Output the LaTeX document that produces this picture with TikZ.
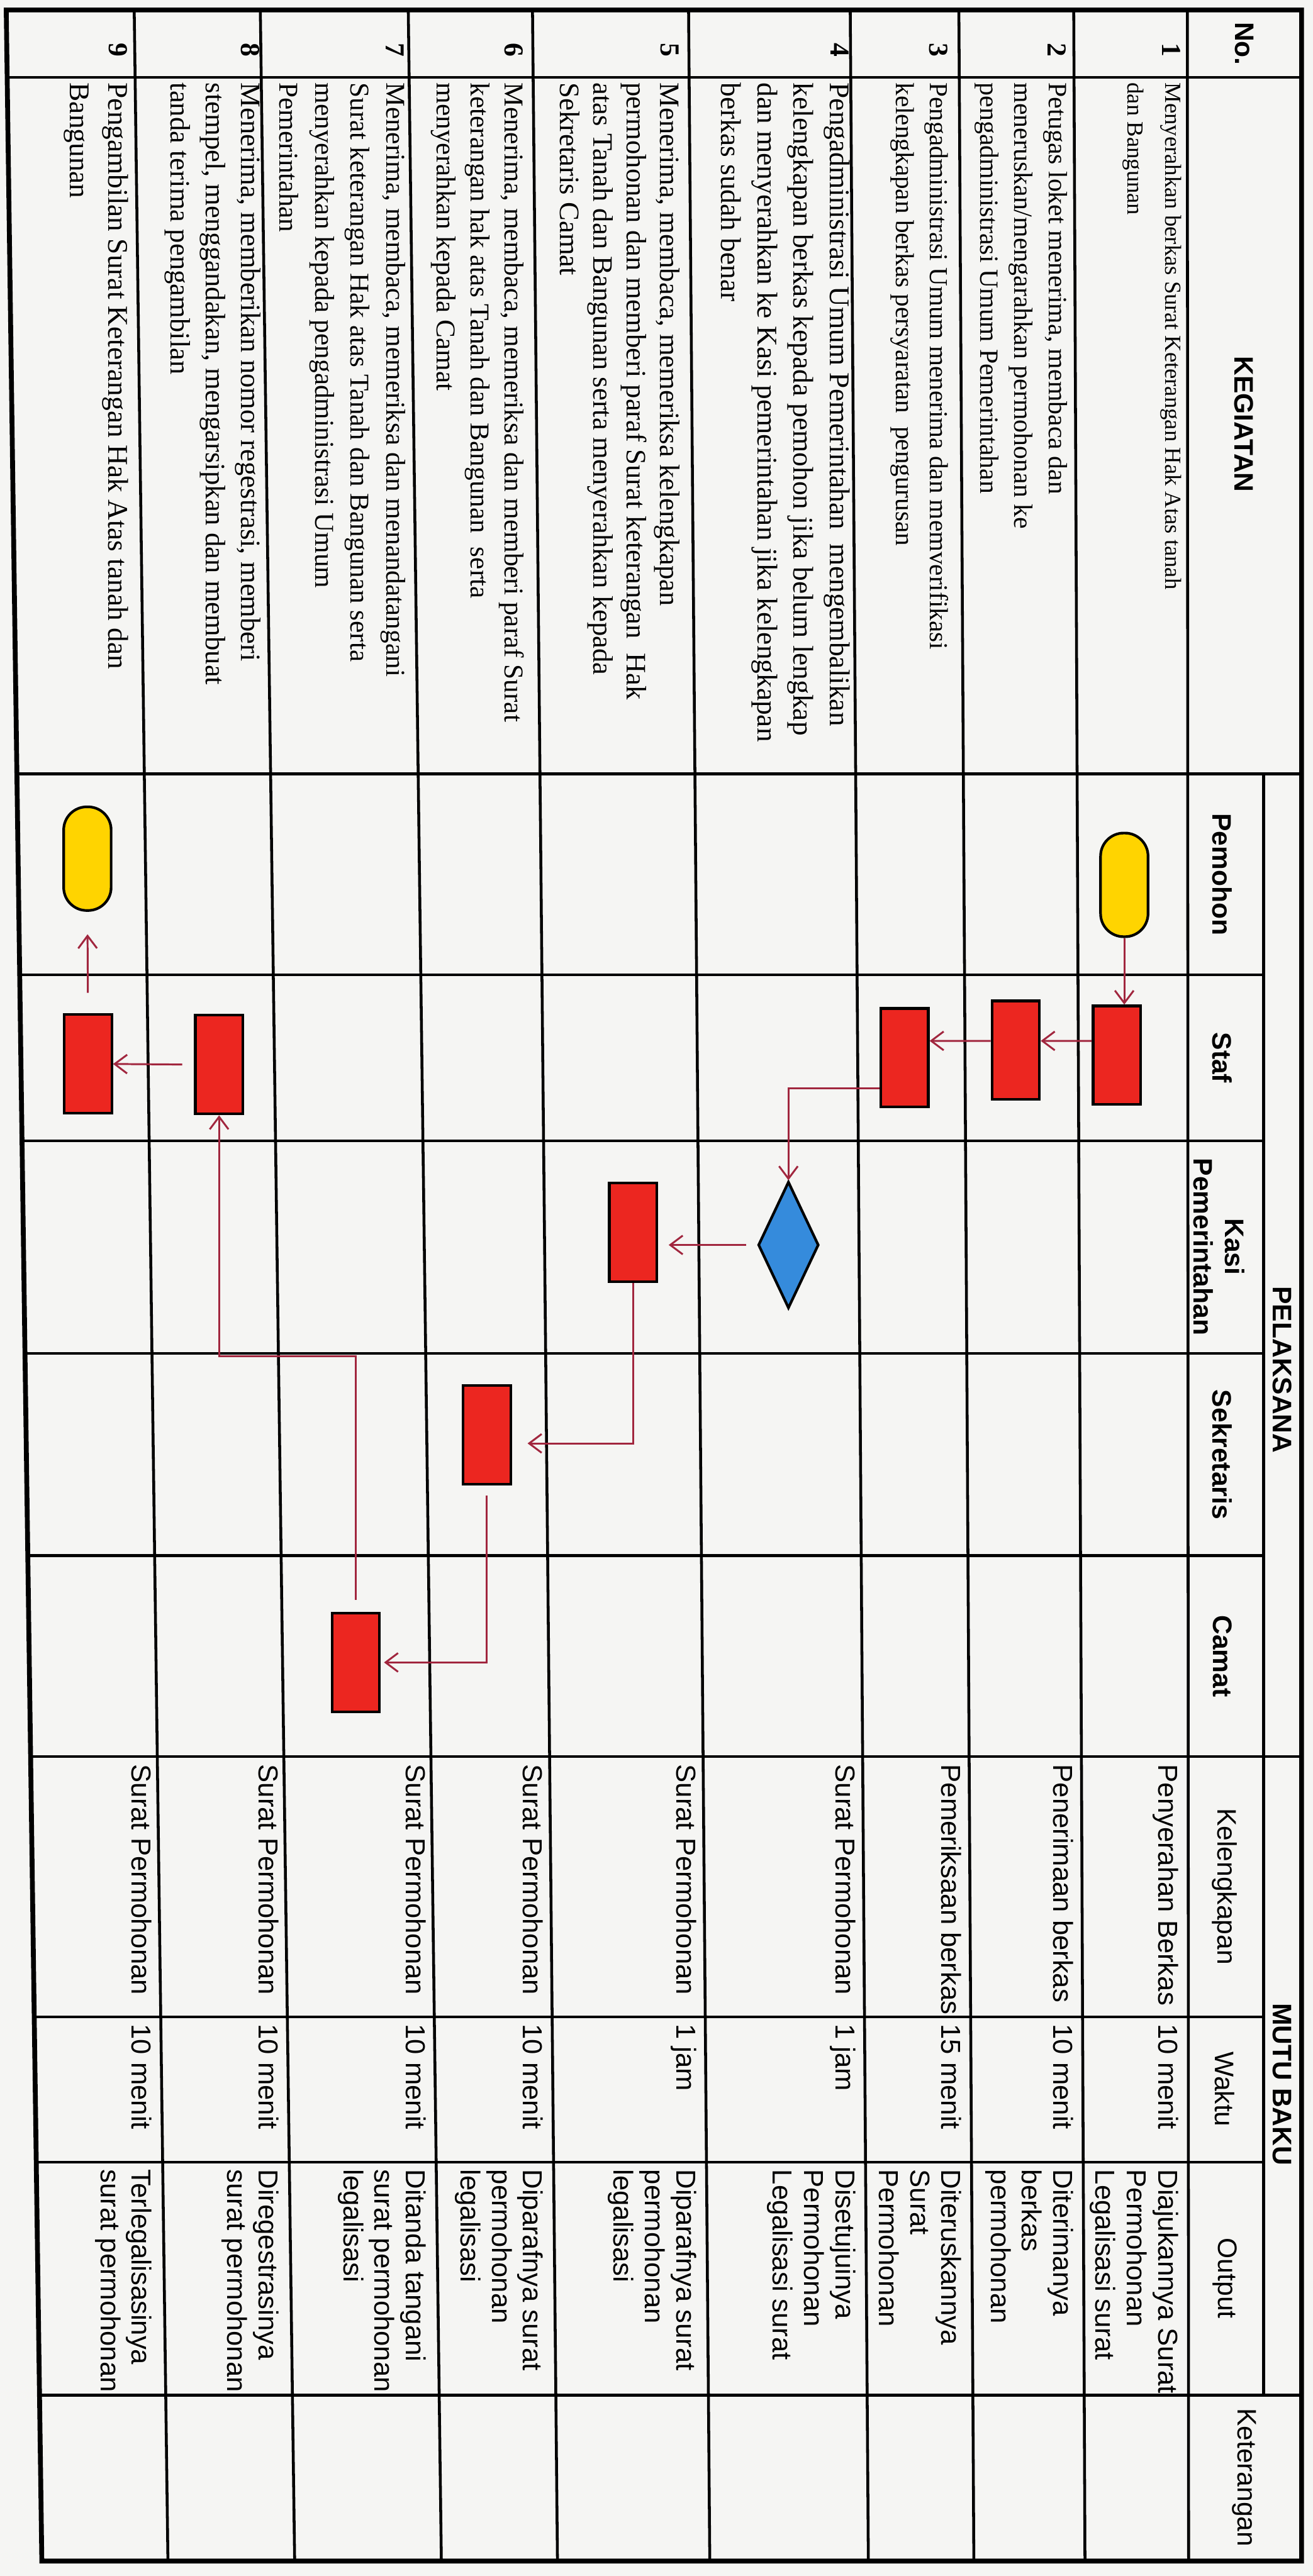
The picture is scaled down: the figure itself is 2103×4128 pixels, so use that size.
\documentclass[tikz,border=0pt]{standalone}
\usepackage{fontspec}
\setmainfont{Liberation Serif}
\newfontfamily\arialfont{Liberation Sans}
\usetikzlibrary{shapes.geometric,arrows.meta}
\definecolor{paper}{HTML}{F5F5F3}
\definecolor{boxred}{HTML}{EC2620}
\definecolor{termyellow}{HTML}{FFD400}
\definecolor{diamblue}{HTML}{358BDC}
\definecolor{flowline}{HTML}{A1263E}
\begin{document}
\begin{tikzpicture}[x=0.01cm,y=-0.01cm,
  gridline/.style={line width=1.3pt,black},
  frameline/.style={line width=2.2pt,black},
  hdr/.style={rotate=-90,inner sep=0pt,font=\arialfont\bfseries\fontsize{12.2}{14.2}\selectfont,align=center},
  subhdr/.style={rotate=-90,inner sep=0pt,font=\arialfont\fontsize{12.2}{14.2}\selectfont,align=center},
  kegtext/.style={rotate=-90,anchor=north west,inner sep=0pt,align=left},
  numtext/.style={rotate=-90,inner sep=0pt,font=\bfseries\fontsize{12.5}{14}\selectfont},
  mutu/.style={rotate=-90,anchor=north west,inner sep=0pt,align=left,font=\arialfont\fontsize{12.5}{14.2}\selectfont},
  procbox/.style={draw=black,line width=1.2pt,fill=boxred,minimum width=0.76cm,minimum height=1.58cm,inner sep=0pt},
  termbox/.style={draw=black,line width=1.2pt,fill=termyellow,minimum width=0.76cm,minimum height=1.66cm,rounded corners=0.37cm,inner sep=0pt},
  decbox/.style={diamond,draw=black,line width=1.2pt,fill=diamblue,minimum width=0.97cm,minimum height=2.03cm,inner sep=0pt},
  flow/.style={draw=flowline,line width=0.85pt,-{Straight Barb[length=0.2cm,width=0.3cm]}},
]
% background and bounding box
\fill[paper] (0,0) rectangle (2103,4128);
\useasboundingbox (0,0) rectangle (2103,4128);

% table grid (the photographed table leans slightly: lines drift right towards the bottom)
\foreach \xt/\xb in {215/269,417/472,654/707,853/893,1103/1137,1362/1391,1536/1560,1720/1738,1902/1904}
  \draw[gridline] (\xt,16) -- (\xb,4104);
\draw[gridline] (11.5,124) -- (2085,124);
\draw[gridline] (27.1,1240) -- (2085,1240);
\draw[gridline] (49,2815) -- (2085,2815);
\draw[gridline] (63.3,3838) -- (2085,3838);
\foreach \xl/\yy in {31.6/1562,35.3/1828,40/2169,44.5/2493,54.8/3232,58.1/3465}
  \draw[gridline] (\xl,\yy) -- (2024,\yy);
\draw[gridline] (2024,1240) -- (2024,3838);
\draw[frameline,line join=miter] (10,16) -- (2085,16) -- (2085,4104) -- (67,4104) -- cycle;

% headers
\node[hdr] (hno) at (1993,70) {No.};
\node[hdr] (hkeg) at (1993,680) {KEGIATAN};
\node[hdr] (hpel) at (2054,2195) {PELAKSANA};
\node[hdr] (hpem) at (1958,1401) {Pemohon};
\node[hdr] (hstaf) at (1958,1695) {Staf};
\node[hdr] (hkasi) at (1953,1998) {Kasi\\Pemerintahan};
\node[hdr] (hsek) at (1958,2331) {Sekretaris};
\node[hdr] (hcam) at (1958,2654) {Camat};
\node[hdr] (hmutu) at (2054,3340) {MUTU BAKU};
\node[subhdr] (hkel) at (1962,3023) {Kelengkapan};
\node[subhdr] (hwak) at (1962,3348) {Waktu};
\node[subhdr] (hout) at (1962,3651) {Output};
\node[subhdr] (hket) at (1993,3970) {Keterangan};

% row numbers
\node[numtext] (n1) at (1876,80) {1};
\node[numtext] (n2) at (1693,80) {2};
\node[numtext] (n3) at (1503,80) {3};
\node[numtext] (n4) at (1345,80) {4};
\node[numtext] (n5) at (1073,80) {5};
\node[numtext] (n6) at (823,80) {6};
\node[numtext] (n7) at (633,80) {7};
\node[numtext] (n8) at (401,80) {8};
\node[numtext] (n9) at (189,80) {9};

% kegiatan
\node[kegtext,font=\fontsize{10.5}{17}\selectfont] (k1) at (1893,132) {Menyerahkan berkas Surat Keterangan Hak Atas tanah\\dan Bangunan};
\node[kegtext,font=\fontsize{12}{15.5}\selectfont] (k2) at (1710,132) {Petugas loket menerima, membaca dan\\meneruskan/mengarahkan permohonan ke\\pengadministrasi Umum Pemerintahan};
\node[kegtext,font=\fontsize{11.8}{15.5}\selectfont] (k3) at (1520,132) {Pengadministrasi Umum menerima dan memverifikasi\\kelengkapan berkas persyaratan\ \ pengurusan};
\node[kegtext,font=\fontsize{13}{16.5}\selectfont] (k4) at (1362,132) {Pengadministrasi Umum Pemerintahan\ \ mengembalikan\\kelengkapan berkas kepada pemohon jika belum lengkap\\dan menyerahkan ke Kasi pemerintahan jika kelengkapan\\berkas sudah benar};
\node[kegtext,font=\fontsize{12.8}{15.2}\selectfont] (k5) at (1090,132) {Menerima, membaca, memeriksa kelengkapan\\permohonan dan memberi paraf Surat keterangan\ \ Hak\\atas Tanah dan Bangunan serta menyerahkan kepada\\Sekretaris Camat};
\node[kegtext,font=\fontsize{12.4}{15.5}\selectfont] (k6) at (840,132) {Menerima, membaca, memeriksa dan memberi paraf Surat\\keterangan hak atas Tanah dan Bangunan\ \ serta\\menyerahkan kepada Camat};
\node[kegtext,font=\fontsize{12.4}{16.2}\selectfont] (k7) at (650,132) {Menerima, membaca, memeriksa dan menandatangani\\Surat keterangan Hak atas Tanah dan Bangunan serta\\menyerahkan kepada pengadministrasi Umum\\Pemerintahan};
\node[kegtext,font=\fontsize{12.8}{16}\selectfont] (k8) at (418,132) {Menerima, memberikan nomor regestrasi, memberi\\stempel, menggandakan, mengarsipkan dan membuat\\tanda terima pengambilan};
\node[kegtext,font=\fontsize{13}{17.5}\selectfont] (k9) at (206,132) {Pengambilan Surat Keterangan Hak Atas tanah dan\\Bangunan};

% mutu baku: kelengkapan
\node[mutu] (c1) at (1888,2827) {Penyerahan Berkas};
\node[mutu] (c2) at (1720,2827) {Penerimaan berkas};
\node[mutu] (c3) at (1541,2827) {Pemeriksaan berkas};
\node[mutu] (c4) at (1371,2827) {Surat Permohonan};
\node[mutu] (c5) at (1116,2827) {Surat Permohonan};
\node[mutu] (c6) at (871,2827) {Surat Permohonan};
\node[mutu] (c7) at (683,2827) {Surat Permohonan};
\node[mutu] (c8) at (447,2827) {Surat Permohonan};
\node[mutu] (c9) at (244,2827) {Surat Permohonan};
% waktu
\node[mutu] (w1) at (1888,3243) {10 menit};
\node[mutu] (w2) at (1720,3243) {10 menit};
\node[mutu] (w3) at (1541,3243) {15 menit};
\node[mutu] (w4) at (1371,3243) {1 jam};
\node[mutu] (w5) at (1116,3243) {1 jam};
\node[mutu] (w6) at (871,3243) {10 menit};
\node[mutu] (w7) at (683,3243) {10 menit};
\node[mutu] (w8) at (447,3243) {10 menit};
\node[mutu] (w9) at (244,3243) {10 menit};
% output
\node[mutu] (o1) at (1888,3476) {Diajukannya Surat\\Permohonan\\Legalisasi surat};
\node[mutu] (o2) at (1720,3476) {Diterimanya\\berkas\\permohonan};
\node[mutu] (o3) at (1541,3476) {Diteruskannya\\Surat\\Permohonan};
\node[mutu] (o4) at (1371,3476) {Disetujuinya\\Permohonan\\Legalisasi surat};
\node[mutu] (o5) at (1116,3476) {Diparafnya surat\\permohonan\\legalisasi};
\node[mutu] (o6) at (871,3476) {Diparafnya surat\\permohonan\\legalisasi};
\node[mutu] (o7) at (683,3476) {Ditanda tangani\\surat permohonan\\legalisasi};
\node[mutu] (o8) at (447,3476) {Diregestrasinya\\surat permohonan};
\node[mutu] (o9) at (244,3476) {Terlegalisasinya\\surat permohonan};

% flowchart shapes
\node[termbox] (t1) at (1801,1418) {};
\node[procbox] (p1) at (1789,1691) {};
\node[procbox] (p2) at (1627,1683) {};
\node[procbox] (p3) at (1449,1695) {};
\node[decbox] (d4) at (1263,1995) {};
\node[procbox] (p5) at (1014,1975) {};
\node[procbox] (p6) at (780,2299) {};
\node[procbox] (p7) at (570,2664) {};
\node[procbox] (p8) at (351,1706) {};
\node[procbox] (p9) at (141,1705) {};
\node[termbox] (t9) at (140,1376) {};
\coordinate (b8) at (351,2173);

% connectors
\draw[flow] (t1.south) -- (t1.south |- p1.north);
\draw[flow] ([yshift=0.23cm]p1.west) -- ([yshift=0.15cm]p2.east);
\draw[flow] ([yshift=0.15cm]p2.west) -- ([yshift=0.27cm]p3.east);
\draw[flow] ([yshift=-0.49cm]p3.west) -| (d4.north);
\draw[flow,shorten <=0.17cm,shorten >=0.17cm] (d4.west) -- (d4.west -| p5.east);
\draw[flow,shorten >=0.25cm] (p5.south) |- ([yshift=-0.14cm]p6.east);
\draw[flow,shorten <=0.16cm,shorten >=0.05cm] (p6.south) |- (p7.east);
\draw[flow,shorten <=0.19cm] (p7.north) |- (b8) -- (p8.south);
\draw[flow,shorten <=0.19cm] (p8.west) -- (p9.east);
\draw[flow,shorten <=0.33cm,shorten >=0.36cm] (p9.north) -- (t9.south);
\end{tikzpicture}
\end{document}
